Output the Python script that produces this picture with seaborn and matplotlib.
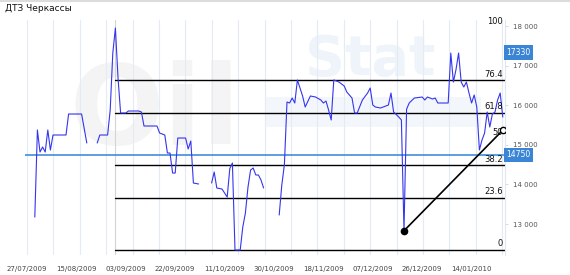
import numpy as np
import pandas as pd
import matplotlib
matplotlib.use("Agg")
import matplotlib.pyplot as plt
import matplotlib.dates as mdates
from matplotlib.lines import Line2D
from matplotlib.transforms import blended_transform_factory
import seaborn as sns

# ---------------- data ----------------
title = "ДТЗ Черкассы"
dates = [
    "2009-07-30", "2009-07-31", "2009-08-01", "2009-08-02", "2009-08-03", "2009-08-04",
    "2009-08-05", "2009-08-06", "2009-08-11", "2009-08-12", "2009-08-17", "2009-08-19",
    "2009-08-21", "2009-08-23", "2009-08-24", "2009-08-27", "2009-08-28", "2009-08-29",
    "2009-08-30", "2009-08-31", "2009-09-01", "2009-09-03", "2009-09-04", "2009-09-08",
    "2009-09-09", "2009-09-10", "2009-09-15", "2009-09-16", "2009-09-18", "2009-09-19",
    "2009-09-20", "2009-09-21", "2009-09-22", "2009-09-23", "2009-09-26", "2009-09-27",
    "2009-09-28", "2009-09-29", "2009-10-01", "2009-10-03", "2009-10-06", "2009-10-07",
    "2009-10-08", "2009-10-10", "2009-10-12", "2009-10-13", "2009-10-14", "2009-10-15",
    "2009-10-17", "2009-10-18", "2009-10-19", "2009-10-20", "2009-10-21", "2009-10-22",
    "2009-10-23", "2009-10-24", "2009-10-25", "2009-10-26", "2009-10-27", "2009-10-29",
    "2009-10-30", "2009-11-01", "2009-11-02", "2009-11-03", "2009-11-04", "2009-11-05",
    "2009-11-06", "2009-11-07", "2009-11-08", "2009-11-10", "2009-11-11", "2009-11-13",
    "2009-11-15", "2009-11-17", "2009-11-18", "2009-11-19", "2009-11-20", "2009-11-21",
    "2009-11-22", "2009-11-24", "2009-11-26", "2009-11-27", "2009-11-29", "2009-11-30",
    "2009-12-01", "2009-12-03", "2009-12-05", "2009-12-06", "2009-12-07", "2009-12-08",
    "2009-12-10", "2009-12-13", "2009-12-14", "2009-12-15", "2009-12-17", "2009-12-18",
    "2009-12-19", "2009-12-20", "2009-12-21", "2009-12-23", "2009-12-26", "2009-12-27",
    "2009-12-28", "2009-12-30", "2009-12-31", "2010-01-01", "2010-01-05", "2010-01-06",
    "2010-01-07", "2010-01-08", "2010-01-09", "2010-01-10", "2010-01-11", "2010-01-12",
    "2010-01-13", "2010-01-14", "2010-01-15", "2010-01-16", "2010-01-17", "2010-01-18",
    "2010-01-19", "2010-01-20", "2010-01-21", "2010-01-22", "2010-01-23", "2010-01-24",
    "2010-01-25", "2010-01-26",
]
prices = [
    13177, 15374, 14818, 14945, 14818, 15374,
    14869, 15248, 15248, 15778, 15778, 15046,
    None, 15046, 15248, 15248, 15879, 17318,
    17950, 16700, 15803, 15803, 15854, 15854,
    15829, 15475, 15475, 15298, 15248, 14793,
    14793, 14288, 14288, 15172, 15172, 14894,
    15096, 14036, 14011, None, 14036, 14314,
    13910, 13884, 13682, 14400, 14541, 12344,
    12344, 12925, 13278, 13935, 14364, 14415,
    14238, 14238, 14112, 13910, None, 13200,
    None, 13228, 13985, 14500, 16081, 16056,
    16182, 16056, 16637, 16233, 15955, 16233,
    16207, 16132, 16056, 16106, 15879, 15627,
    16637, 16586, 16485, 16334, 16182, 15803,
    15803, 16132, 16308, 16435, 16005, 15955,
    15930, 16005, 16308, 15830, 15702, 15627,
    12830, 15900, 16056, 16182, 16207, 16132,
    16207, 16157, 16182, 16056, 16056, 17318,
    16586, 16900, 17318, 16586, 16460, 16586,
    16308, 16056, 16258, 15955, 14869, 15121,
    15298, 15829, 15450, 15779, 15829, 16132,
    16308, 15702,
]
fib_levels = [0, 23.6, 38.2, 61.8, 76.4]
fib_labels = ["0", "23.6", "38.2", "50", "61.8", "76.4", "100"]
fib_label_levels = [0, 23.6, 38.2, 50, 61.8, 76.4, 100]
support_level = 14750
support_label = "14750"
marker_level = 17330
marker_label = "17330"
trend_dates = ["2009-12-19", "2010-01-26"]
trend_prices = [12830, 15370]
tick_dates = ["2009-07-27", "2009-08-15", "2009-09-03", "2009-09-22", "2009-10-11",
              "2009-10-30", "2009-11-18", "2009-12-07", "2009-12-26", "2010-01-14"]
y_ticks = [13000, 14000, 15000, 16000, 17000, 18000]
y_tick_labels = ["13 000", "14 000", "15 000", "16 000", "17 000", "18 000"]

# ---------------- frame ----------------
df = pd.DataFrame({"date": pd.to_datetime(dates), "price": pd.array(prices, dtype="float")})
df["seg"] = df["price"].isna().cumsum()
df = df.dropna()

start = pd.Timestamp("2009-07-27")
x0 = start - pd.Timedelta(days=0.77)
x1 = start + pd.Timedelta(days=183.85)

sns.set_theme(style="white")
plt.rcParams["font.family"] = ["DejaVu Sans"]

fig = plt.figure(figsize=(5.7, 2.75), dpi=100)
fig.patch.set_facecolor("white")
ax = fig.add_axes([25 / 570, 20 / 275, 480 / 570, 235 / 275])
ax.set_facecolor("white")

# faint watermark
ax.text(0.27, 0.60, "Oil", transform=ax.transAxes, fontsize=80, fontweight="bold",
        color="#f4f4f4", ha="center", va="center", zorder=0)
ax.text(0.72, 0.83, "Stat", transform=ax.transAxes, fontsize=40, fontweight="bold",
        color="#eef4fa", ha="center", va="center", zorder=0)
ax.axhspan(15450, 16200, xmin=0.5, xmax=0.95, color="#f3f7fc", zorder=0, lw=0)

# vertical grid
minor = [mdates.date2num(start) + k * 10.154 for k in range(19)]
for m in minor:
    ax.axvline(m, color="#e3ecf5", lw=0.8, zorder=0.5)

hi_idx = df["price"].idxmax()
hi = df["price"].max()
lo = df["price"].min()
hi_date = df.loc[hi_idx, "date"]
ax.axvline(hi_date, color="#d4d4d4", lw=0.8, zorder=0.6)

# price series
sns.lineplot(data=df, x="date", y="price", units="seg", estimator=None,
             color="#3535ee", lw=0.8, ax=ax, zorder=3, legend=False)

# support line
ax.axhline(support_level, color="#2f84d8", lw=1.1, zorder=2)

# fibonacci lines
xf0 = mdates.date2num(hi_date)
xf1 = mdates.date2num(x1)
for lv in fib_levels:
    val = lo + (hi - lo) * lv / 100
    ax.plot([xf0, xf1], [val, val], color="black", lw=1.0, zorder=2)
tr = blended_transform_factory(ax.transAxes, ax.transData)
for lab, lv in zip(fib_labels, sorted(fib_label_levels)):
    val = lo + (hi - lo) * lv / 100
    ax.text(0.996, val + 40, lab, transform=tr, ha="right", va="bottom",
            fontsize=6, color="#111111", zorder=4)

# trend line
td = pd.to_datetime(trend_dates)
ax.plot(td, trend_prices, color="black", lw=1.2, zorder=5)
ax.plot(td[0], trend_prices[0], "o", color="black", ms=4.5, zorder=6)
ax.plot(td[1], trend_prices[1], "o", mfc="white", mec="black", ms=4.5, mew=1, zorder=6)

# value boxes
for lvl, lab in [(support_level, support_label), (marker_level, marker_label)]:
    ax.text(1.003, lvl, lab, transform=tr, ha="left", va="center", fontsize=5.5,
            color="white", zorder=7, clip_on=False,
            bbox=dict(boxstyle="square,pad=0.35", fc="#3a85d6", ec="none"))

# axes setup
ax.set_xlim(x0, x1)
ax.set_ylim(12218, 18152)
ax.set_xticks(pd.to_datetime(tick_dates))
ax.set_xticklabels([pd.Timestamp(d).strftime("%d/%m/%Y") for d in tick_dates],
                   fontsize=5, color="#444444")
ax.tick_params(axis="x", length=0, pad=8)
ax.yaxis.tick_right()
ax.set_yticks(y_ticks)
ax.set_yticklabels(y_tick_labels, fontsize=5, color="#555555")
ax.tick_params(axis="y", length=2.5, width=0.6, color="#c8d6e6", pad=3, right=True, left=False)
ax.set_xlabel("")
ax.set_ylabel("")
for s in ["top", "left", "bottom"]:
    ax.spines[s].set_visible(False)
ax.spines["right"].set_color("#dde7f2")
ax.spines["right"].set_linewidth(0.8)
ax.grid(False)

fig.text(5 / 570, 1 - 8.5 / 275, title, fontsize=6.5, color="#111111", va="center", ha="left")
fig.add_artist(Line2D([0, 1], [1 - 0.8 / 275, 1 - 0.8 / 275], color="#dcdcdc", lw=1.5,
                      transform=fig.transFigure))

fig.savefig("out.png", dpi=100)
